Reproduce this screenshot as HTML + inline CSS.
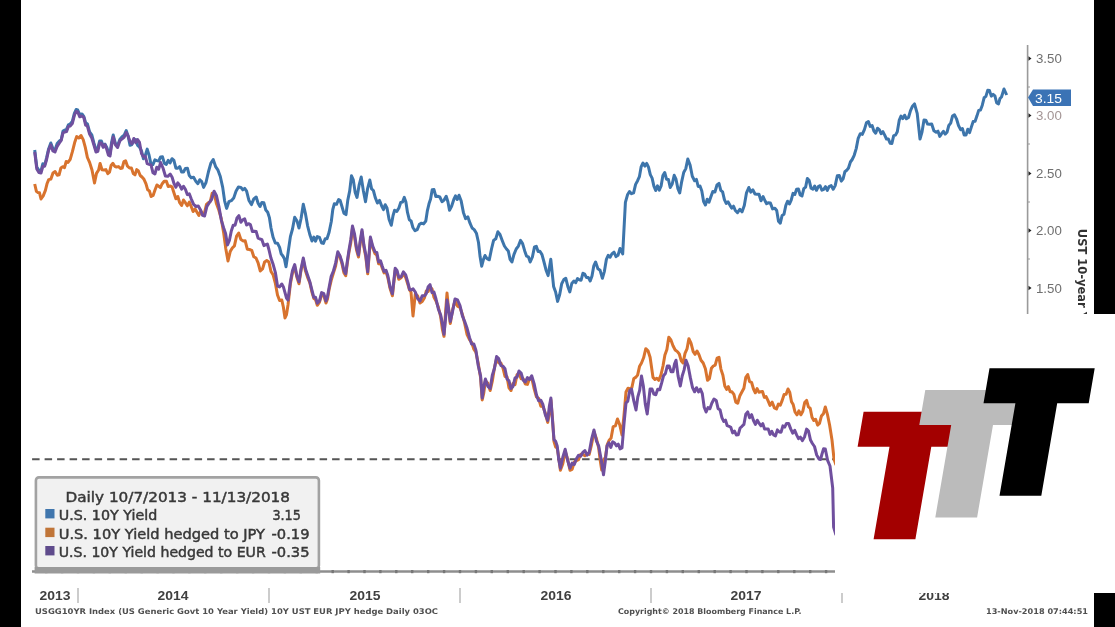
<!DOCTYPE html>
<html><head><meta charset="utf-8"><title>Chart</title>
<style>html,body{margin:0;padding:0;background:#fff;}body{width:1115px;height:627px;overflow:hidden;}svg{display:block;}</style>
</head><body>
<svg width="1115" height="627" viewBox="0 0 1115 627">
<defs><filter id="bl" x="-5%" y="-5%" width="110%" height="110%"><feGaussianBlur stdDeviation="0.55"/></filter></defs>
<rect x="0" y="0" width="1115" height="627" fill="#ffffff"/>
<g filter="url(#bl)">
<line x1="1027.6" y1="45" x2="1027.6" y2="320" stroke="#9a9a9a" stroke-width="1.6"/>
<path d="M1028.5,56.3 L1031.5,58.5 L1028.5,60.7 Z" fill="#222"/>
<text x="1036" y="63.1" font-family="'Liberation Sans', Arial, sans-serif" font-size="13" fill="#6f6f6f" textLength="25.8" lengthAdjust="spacingAndGlyphs">3.50</text>
<path d="M1028.5,113.3 L1031.5,115.5 L1028.5,117.7 Z" fill="#222"/>
<text x="1036" y="120.1" font-family="'Liberation Sans', Arial, sans-serif" font-size="13" fill="#a39494" textLength="25.8" lengthAdjust="spacingAndGlyphs">3.00</text>
<path d="M1028.5,171.3 L1031.5,173.5 L1028.5,175.7 Z" fill="#222"/>
<text x="1036" y="178.1" font-family="'Liberation Sans', Arial, sans-serif" font-size="13" fill="#6f6f6f" textLength="25.8" lengthAdjust="spacingAndGlyphs">2.50</text>
<path d="M1028.5,228.3 L1031.5,230.5 L1028.5,232.7 Z" fill="#222"/>
<text x="1036" y="235.1" font-family="'Liberation Sans', Arial, sans-serif" font-size="13" fill="#6f6f6f" textLength="25.8" lengthAdjust="spacingAndGlyphs">2.00</text>
<path d="M1028.5,285.8 L1031.5,288 L1028.5,290.2 Z" fill="#222"/>
<text x="1036" y="292.6" font-family="'Liberation Sans', Arial, sans-serif" font-size="13" fill="#6f6f6f" textLength="25.8" lengthAdjust="spacingAndGlyphs">1.50</text>
<line x1="1027.6" y1="87" x2="1030" y2="87" stroke="#999" stroke-width="1"/>
<line x1="1027.6" y1="144" x2="1030" y2="144" stroke="#999" stroke-width="1"/>
<line x1="1027.6" y1="202" x2="1030" y2="202" stroke="#999" stroke-width="1"/>
<line x1="1027.6" y1="259" x2="1030" y2="259" stroke="#999" stroke-width="1"/>
<text transform="translate(1077.5,228.8) rotate(90)" font-family="'DejaVu Sans', 'Liberation Sans', sans-serif" font-size="11.5" font-weight="bold" fill="#333">UST 10-year Yield</text>
<line x1="32.1" y1="459.3" x2="836" y2="459.3" stroke="#555" stroke-width="2" stroke-dasharray="7.5,5"/>
<polyline points="34.7,150.0 36.8,167.0 38.9,170.3 41.0,171.0 42.8,163.8 44.7,165.0 46.5,158.0 48.6,148.9 50.8,143.0 52.9,148.6 55.0,150.0 57.2,143.5 59.4,141.0 61.2,139.8 63.0,131.0 64.8,130.0 66.6,129.2 68.4,124.9 70.2,124.0 72.3,121.3 74.5,113.0 76.1,109.5 77.7,110.0 79.8,114.7 82.0,114.0 83.8,116.3 85.6,122.7 87.4,124.0 89.6,132.0 91.8,134.9 93.9,143.0 96.0,150.0 97.8,148.5 99.6,141.0 101.4,141.0 103.2,146.1 105.0,144.2 106.8,147.5 108.4,151.9 110.0,154.0 111.6,142.3 113.2,135.0 115.4,143.3 117.6,145.5 119.8,139.4 121.9,137.0 124.1,135.3 126.2,130.5 128.1,136.0 130.0,145.3 131.9,144.5 133.8,140.0 135.7,139.6 137.6,145.4 139.6,147.2 141.5,150.9 143.4,158.7 145.3,155.4 147.2,149.1 149.1,155.2 151.0,164.4 152.9,164.6 154.9,159.9 156.8,160.6 158.7,161.0 160.6,157.0 162.5,156.8 164.4,163.4 166.3,164.4 168.2,160.3 170.1,163.0 172.0,158.7 173.9,160.4 175.9,168.2 177.8,168.2 179.7,166.6 181.6,172.0 183.5,172.0 185.4,168.4 187.4,168.2 189.3,175.6 191.2,177.8 193.6,177.2 196.0,181.6 197.9,183.7 199.8,179.7 201.7,181.6 203.6,187.4 206.0,182.5 208.4,172.0 210.8,163.3 213.2,159.6 215.6,166.6 218.0,170.2 220.3,176.5 222.7,187.4 224.6,200.8 226.6,208.4 228.9,201.7 231.3,200.7 233.7,198.1 236.0,191.2 238.4,187.0 240.9,187.4 242.8,189.8 244.7,188.4 246.6,191.2 249.0,200.6 251.4,204.6 253.8,198.9 256.2,197.0 258.1,203.2 260.0,206.5 261.9,202.4 263.8,202.7 265.8,210.0 267.7,212.2 269.4,217.6 271.0,228.0 273.1,237.3 275.3,243.0 277.5,243.2 279.6,247.4 281.2,253.8 282.9,256.0 284.4,258.7 286.0,266.7 288.2,251.7 290.4,236.6 292.5,229.0 294.7,217.2 296.9,220.7 299.0,228.0 301.1,218.2 303.3,204.3 305.5,213.9 307.6,225.8 309.8,234.5 312.0,241.0 313.8,237.0 315.5,241.2 317.3,236.6 319.5,237.5 321.6,243.0 323.4,243.4 325.2,238.7 327.0,238.7 329.1,232.2 331.3,221.5 332.8,209.5 334.3,203.8 336.5,204.3 338.6,199.5 340.2,200.6 341.8,206.0 343.9,213.2 346.0,214.6 347.8,200.1 349.7,190.9 351.5,175.8 353.3,179.9 355.2,192.5 357.0,197.4 359.1,185.2 361.2,177.0 363.4,191.0 365.5,201.7 367.6,188.6 369.8,180.0 371.6,188.9 373.4,190.5 375.2,197.4 377.4,203.0 379.5,200.4 381.7,206.0 383.5,209.6 385.2,204.7 387.0,208.0 389.1,219.4 391.3,225.3 393.0,215.7 394.6,210.3 396.8,211.4 398.9,208.0 400.7,202.5 402.5,202.1 404.3,197.4 405.9,202.0 407.5,212.4 409.3,219.7 411.1,221.0 412.9,227.5 415.0,230.7 417.2,229.6 419.4,224.3 421.5,223.2 423.6,223.9 425.8,221.0 427.4,210.6 429.0,203.8 430.6,199.0 432.2,189.8 434.0,189.6 435.8,196.5 437.6,196.3 439.8,197.0 442.0,201.7 444.1,200.1 446.2,196.3 447.9,201.8 449.5,210.3 451.6,206.3 453.8,199.5 455.5,195.8 457.3,199.5 459.0,195.2 461.2,201.1 463.4,212.4 465.6,218.7 467.8,216.8 470.0,223.2 472.1,228.0 474.2,229.6 476.4,233.2 478.5,242.5 480.1,256.8 481.7,266.2 483.4,259.6 485.0,255.5 487.1,258.7 489.3,259.8 491.5,249.0 493.6,240.4 495.8,238.7 497.9,231.8 500.0,234.5 502.2,240.4 504.4,246.0 506.5,249.0 508.3,251.0 510.1,259.4 511.9,262.0 514.0,254.3 516.2,249.0 518.4,246.1 520.5,240.4 522.6,243.6 524.8,251.2 526.6,256.2 528.4,256.8 530.2,262.0 532.4,257.0 534.5,246.9 536.3,246.3 538.1,251.5 539.9,251.2 542.0,254.6 544.0,262.0 546.0,269.9 548.1,275.6 550.8,259.3 553.6,286.4 555.6,292.0 557.6,301.4 559.7,294.5 561.7,283.7 563.8,279.6 565.8,278.3 567.8,286.4 569.8,291.9 571.8,283.5 573.9,281.0 575.7,282.7 577.5,278.6 579.3,279.7 581.1,280.2 582.9,273.3 584.7,274.2 586.5,277.6 588.4,277.6 590.2,281.0 592.0,276.0 593.8,265.8 595.6,262.0 597.9,268.8 600.1,270.3 602.4,278.3 604.4,271.3 606.4,259.3 608.2,255.3 610.1,257.2 611.9,253.9 614.0,252.2 616.0,256.6 618.0,255.3 620.0,248.5 622.7,253.9 625.4,202.4 627.5,194.8 629.5,191.5 631.5,193.7 633.6,192.9 635.6,184.4 637.6,180.7 639.4,176.7 641.2,166.6 643.0,163.0 644.8,166.1 646.7,163.4 648.5,167.1 650.3,174.6 652.1,178.1 653.9,186.1 655.7,190.5 657.5,185.9 659.3,190.2 661.1,186.0 662.9,175.5 664.7,172.5 666.5,179.2 668.4,179.5 670.2,187.5 672.2,184.0 674.2,175.3 676.0,179.2 677.9,188.6 679.7,192.9 681.7,181.6 683.7,172.5 685.8,168.6 687.8,159.0 690.1,165.1 692.3,176.2 694.6,180.7 696.4,179.4 698.2,186.5 700.0,186.1 701.8,191.0 703.6,201.6 705.4,205.0 707.2,199.2 709.0,202.2 710.8,197.0 712.8,191.5 714.9,192.0 717.0,185.0 719.0,183.4 720.8,190.3 722.6,191.8 724.4,199.7 726.2,203.4 728.0,201.8 729.8,205.0 731.6,208.1 733.5,206.2 735.3,210.5 737.5,212.6 739.8,209.3 742.0,211.9 744.3,205.5 746.5,192.8 748.8,187.5 750.8,192.1 752.9,189.8 755.0,194.0 757.0,194.2 759.0,194.2 761.0,200.7 763.1,196.6 765.1,201.0 766.6,203.7 768.1,202.8 770.4,203.1 772.6,208.9 774.9,208.3 776.7,210.5 778.5,221.2 780.3,223.2 782.1,215.5 784.0,214.3 785.8,205.5 787.6,201.2 789.4,204.0 791.2,200.1 793.0,193.4 794.8,194.4 796.6,189.3 798.4,189.0 800.2,195.0 802.0,196.0 803.8,188.7 805.6,187.2 807.4,178.4 809.2,180.5 811.1,188.3 812.9,189.3 814.7,186.1 816.5,190.3 818.3,186.6 820.1,185.7 821.9,190.2 823.7,189.3 825.5,186.7 827.3,190.4 829.1,186.6 831.2,185.6 833.2,189.3 835.2,185.6 837.3,175.7 839.3,175.5 841.3,181.1 843.1,178.8 844.9,171.7 846.7,170.3 848.5,168.0 850.4,162.0 852.2,159.5 854.2,155.3 856.2,148.6 858.2,138.3 860.3,133.7 862.3,134.4 864.4,129.6 866.4,122.8 868.4,121.5 870.2,126.4 872.1,125.5 873.9,131.0 875.7,133.2 877.5,128.2 879.3,129.6 881.1,133.7 882.9,131.7 884.7,135.1 886.5,139.0 888.3,138.9 890.1,143.2 891.9,143.4 893.7,135.6 895.5,135.1 897.3,131.8 899.2,120.4 901.0,116.1 902.8,118.6 904.6,115.2 906.4,118.8 908.5,117.5 910.5,110.7 912.5,106.2 914.5,103.9 917.2,113.4 920.0,139.1 922.0,132.1 924.0,120.1 925.8,120.2 927.6,124.1 929.4,124.2 931.7,124.0 933.9,130.7 936.2,132.3 938.0,131.2 939.8,136.4 941.6,133.7 943.4,131.3 945.2,134.1 947.0,132.3 948.8,125.5 950.7,123.1 952.5,116.1 954.5,114.8 956.5,118.8 958.5,125.5 960.6,129.6 962.4,128.5 964.2,135.1 966.0,135.1 967.8,129.3 969.6,132.6 971.4,126.9 973.2,121.6 975.1,121.3 976.9,116.1 978.7,110.4 980.5,110.1 982.3,105.2 984.1,97.8 985.9,96.4 987.7,90.3 989.5,90.6 991.3,96.1 993.1,94.4 994.9,95.9 996.7,103.0 998.5,103.9 1000.0,98.5 1001.5,97.0 1004.0,89.0 1006.7,95.0" fill="none" stroke="#3d75ab" stroke-width="3" stroke-linejoin="round"/>
<polyline points="34.7,184.0 36.4,191.4 38.0,192.6 39.5,192.8 41.0,199.0 43.2,195.9 45.4,190.4 47.0,183.8 48.7,179.6 50.9,179.1 53.0,173.0 55.1,171.6 57.3,175.3 59.1,174.9 60.9,167.9 62.7,166.7 64.5,167.6 66.2,161.5 68.0,162.4 70.2,159.3 72.4,151.7 74.6,142.8 76.7,136.6 78.8,138.0 81.0,135.5 83.2,139.6 85.3,147.4 87.4,157.5 89.6,162.4 92.0,170.0 94.5,183.0 96.5,173.4 98.6,170.0 100.1,163.4 102.0,169.7 104.0,170.0 105.9,169.6 107.8,173.6 109.5,172.2 111.2,165.2 112.9,163.4 114.7,166.3 116.5,167.0 118.5,166.6 120.5,168.5 122.2,168.0 123.9,161.6 125.6,160.8 127.5,166.2 129.5,168.0 131.4,167.9 133.3,173.6 135.0,174.9 136.7,169.6 138.4,171.0 140.2,175.5 142.0,177.0 144.0,179.3 146.0,183.8 147.7,189.8 149.4,190.9 151.1,196.5 153.1,195.4 155.0,190.0 156.9,185.0 158.8,186.3 160.4,187.6 162.0,184.0 164.2,181.2 166.4,181.2 168.2,186.5 170.0,186.0 172.0,186.8 174.0,193.0 175.9,198.8 177.8,196.5 179.7,202.7 181.6,205.4 183.5,200.0 185.4,202.7 187.3,205.8 189.3,202.1 191.2,206.5 193.1,211.5 195.1,208.9 197.0,212.2 198.9,215.5 200.8,210.9 202.7,214.1 204.6,212.3 206.5,204.3 208.4,202.7 210.3,201.5 212.2,193.2 214.1,193.0 216.5,203.8 218.9,210.3 221.3,218.9 223.7,233.0 225.8,248.8 228.0,261.0 230.2,251.6 232.3,248.0 234.4,245.9 236.6,236.0 238.7,233.0 240.8,239.2 243.0,240.9 245.2,240.8 247.3,249.2 249.5,249.5 251.7,250.3 253.8,256.7 256.0,258.0 258.1,262.8 260.3,271.0 262.5,269.0 264.6,262.0 266.8,260.6 268.9,262.0 271.0,271.5 273.2,275.0 275.4,283.4 277.5,295.0 279.6,300.5 281.8,300.0 283.4,307.3 285.0,318.0 286.5,314.6 288.0,305.0 290.4,283.8 292.5,272.7 294.7,266.6 296.9,277.3 299.0,283.8 301.1,269.8 303.3,260.0 305.5,271.1 307.6,277.3 309.8,282.6 312.0,292.4 313.8,298.4 315.5,299.5 317.3,305.3 319.5,302.1 321.6,294.6 323.8,295.8 326.0,303.0 327.5,298.9 329.0,290.0 331.2,280.3 333.4,273.0 335.6,266.1 337.8,253.7 339.9,256.3 342.0,264.0 343.9,272.8 345.7,275.7 347.4,262.4 349.0,252.0 350.8,242.6 352.5,228.0 354.5,236.5 356.5,249.8 358.5,257.0 360.2,242.7 362.0,231.7 363.9,247.3 365.8,256.9 367.7,273.8 370.4,239.0 372.7,247.6 375.0,253.7 376.8,255.2 378.6,263.8 380.5,263.1 382.3,268.3 384.1,272.9 386.0,271.5 387.8,277.5 390.1,288.6 392.4,295.8 395.2,270.2 397.0,272.2 398.8,279.3 401.1,277.7 403.4,273.8 405.7,277.5 408.0,284.8 409.5,289.8 411.0,292.0 413.0,316.0 415.3,294.0 417.6,296.0 420.0,303.0 422.2,301.6 424.5,297.7 426.3,291.0 428.2,291.5 430.0,286.7 432.0,288.9 434.0,297.3 436.0,301.0 438.4,307.4 440.7,317.0 442.4,329.4 444.0,336.3 445.5,313.3 447.0,293.0 448.6,309.7 450.3,323.5 452.6,309.7 455.0,301.0 457.5,306.1 460.0,307.5 462.4,314.4 464.7,323.5 467.1,334.6 469.5,339.5 471.6,342.4 473.8,349.1 475.9,352.2 478.2,363.2 480.6,377.8 482.2,400.0 483.8,392.8 485.4,381.0 487.8,383.1 490.2,390.5 492.3,381.2 494.5,367.5 496.6,358.6 498.7,362.9 500.9,363.0 503.0,368.2 505.0,376.4 507.0,376.7 509.0,387.9 511.0,390.5 513.0,383.5 515.0,384.6 517.0,374.8 519.0,373.0 521.1,378.7 523.2,378.8 525.3,384.0 527.4,384.4 529.6,378.2 531.7,377.8 534.1,388.7 536.5,397.0 538.6,398.2 540.8,406.2 542.9,406.5 545.3,413.1 547.7,422.4 549.3,413.5 550.9,400.0 552.5,418.9 554.0,441.6 555.6,446.9 557.2,448.0 558.8,457.8 560.4,470.3 562.8,463.8 565.2,451.2 567.6,459.2 570.0,470.3 572.1,469.4 574.3,462.0 576.4,460.7 578.5,459.7 580.7,454.3 582.8,454.4 584.9,455.7 587.1,453.2 589.2,454.4 591.6,444.3 594.0,432.0 596.4,438.6 598.7,448.0 600.2,460.3 601.7,470.0 603.5,460.2 605.4,457.4 607.2,444.8 609.0,440.5 611.1,438.1 613.2,426.6 615.4,425.9 617.5,419.0 619.8,425.0 622.0,435.0 624.0,415.1 626.0,392.0 628.0,388.2 630.0,389.0 631.9,387.5 633.8,378.5 635.7,377.4 637.6,375.1 639.6,366.2 641.5,363.0 643.6,357.8 645.8,348.7 648.0,350.8 650.1,357.3 653.0,377.4 654.9,379.4 656.8,378.2 658.7,380.3 660.9,375.1 663.0,366.0 664.9,355.1 666.9,349.4 668.8,337.2 670.9,339.9 673.0,345.8 675.2,350.0 677.4,351.6 679.3,354.0 681.2,360.7 683.1,363.0 685.0,353.4 687.0,348.9 688.9,338.7 691.0,343.1 693.2,351.6 695.1,354.3 697.0,351.1 698.9,354.5 701.0,360.2 703.2,363.0 705.4,368.7 707.5,380.3 709.4,378.6 711.4,368.2 713.3,366.0 715.2,365.1 717.1,358.1 719.0,357.3 720.9,369.1 722.9,375.3 724.8,386.0 726.6,389.4 728.4,386.7 730.2,391.8 732.0,391.8 733.9,394.4 735.8,402.2 737.7,403.3 739.9,395.7 742.0,391.8 743.9,388.2 745.8,377.3 747.7,374.6 749.6,381.7 751.6,382.5 753.5,389.0 755.3,392.8 757.1,388.6 758.9,392.2 760.7,391.8 762.5,391.5 764.3,397.4 766.1,396.6 767.9,400.4 770.0,405.4 772.2,402.2 774.4,407.9 776.5,409.0 778.4,404.1 780.3,405.2 782.2,400.4 784.1,394.5 786.1,394.3 788.0,389.0 789.8,392.5 791.5,401.7 793.2,404.6 795.0,412.0 797.0,414.8 798.9,410.9 800.9,414.8 802.8,411.2 804.7,402.6 806.6,400.4 808.4,406.9 810.2,408.2 812.0,417.3 813.8,420.5 815.7,419.4 817.6,425.1 819.5,423.4 821.4,416.1 823.4,413.8 825.3,407.0 827.5,414.7 829.6,425.0 832.0,440.0 834.0,459.0 836.0,465.0" fill="none" stroke="#d8732d" stroke-width="3" stroke-linejoin="round"/>
<polyline points="34.7,152.0 36.8,169.0 38.9,172.5 41.0,173.0 42.8,166.5 44.7,166.2 46.5,160.0 48.6,150.2 50.8,145.0 52.9,150.9 55.0,152.0 57.2,146.3 59.4,143.0 61.2,140.4 63.0,132.9 64.8,132.0 66.6,131.6 68.4,126.5 70.2,126.0 72.3,123.6 74.5,115.0 76.1,111.5 77.7,112.0 79.8,116.8 82.0,116.0 83.8,117.3 85.6,125.1 87.4,126.0 89.6,134.0 91.8,138.1 93.9,145.0 96.0,152.0 97.8,151.4 99.6,143.1 101.4,143.0 103.2,147.3 105.0,144.7 106.8,149.5 108.4,155.2 110.0,156.0 111.6,145.3 113.2,137.0 115.4,144.9 117.6,147.5 119.8,141.0 121.9,139.0 124.1,137.4 126.2,132.5 128.1,135.9 130.0,141.5 131.9,143.9 133.8,138.5 135.7,142.6 137.6,139.6 139.5,142.4 141.5,153.6 143.4,156.8 145.3,156.3 147.2,163.7 149.1,164.4 151.0,164.9 153.0,172.8 154.9,174.0 156.8,167.2 158.7,169.2 160.6,162.5 163.0,168.0 165.4,176.0 167.8,176.3 170.2,174.0 172.1,177.2 174.0,183.5 175.9,187.2 177.8,182.8 179.7,185.4 181.6,189.1 183.5,186.3 185.4,189.3 187.3,194.6 189.3,193.8 191.2,198.8 193.6,204.4 196.0,206.5 198.3,206.1 200.7,210.3 202.6,215.4 204.6,216.0 206.9,206.4 209.3,202.7 211.7,199.4 214.1,191.2 216.5,195.8 218.9,206.5 221.3,220.1 223.7,228.0 225.6,233.4 227.5,245.0 229.4,240.5 231.3,231.0 233.2,225.3 235.1,225.2 237.0,218.0 238.9,215.6 240.9,222.2 242.8,219.9 244.7,218.9 246.6,225.0 248.5,223.7 250.4,224.7 252.4,231.6 254.3,231.3 256.2,231.6 258.1,238.1 260.0,239.0 261.9,239.7 263.9,245.6 265.8,244.7 267.4,244.0 268.9,249.5 271.0,258.3 273.2,264.6 275.4,272.6 277.5,286.0 279.6,286.9 281.8,284.0 283.4,286.9 285.0,292.6 286.5,298.0 288.0,300.0 290.4,281.8 292.5,270.5 294.7,264.6 296.9,276.1 299.0,281.8 301.1,268.8 303.3,258.0 305.5,269.0 307.6,275.3 309.8,281.7 312.0,290.4 313.8,297.3 315.5,297.3 317.3,303.3 319.5,300.8 321.6,292.6 323.8,293.7 326.0,301.0 327.5,296.6 329.0,288.0 331.2,276.4 333.4,271.0 335.6,263.1 337.8,251.7 339.9,255.6 342.0,262.0 343.9,270.2 345.7,273.7 347.4,260.7 349.0,250.0 350.8,239.5 352.5,226.0 354.5,233.8 356.5,247.7 358.5,255.0 360.2,241.0 362.0,229.7 363.9,244.9 365.8,254.9 367.7,271.8 370.4,237.0 372.7,246.1 375.0,251.7 376.8,252.3 378.6,261.9 380.5,260.8 382.3,266.3 384.1,271.4 386.0,270.3 387.8,275.5 390.1,287.1 392.4,293.8 395.2,268.2 397.0,270.4 398.8,277.3 401.1,276.8 403.4,271.8 405.7,274.9 408.0,282.8 409.5,289.4 411.0,290.0 413.1,288.9 415.3,292.0 417.6,298.5 420.0,301.0 422.2,295.8 424.5,295.7 426.3,293.6 428.2,286.7 430.0,284.7 432.0,292.6 434.0,292.1 436.0,299.0 438.4,309.2 440.7,315.0 442.4,323.6 444.0,334.3 445.5,319.1 447.0,300.0 448.6,308.5 450.3,321.5 452.6,311.3 455.0,299.0 457.5,299.9 460.0,305.5 462.4,315.9 464.7,321.5 467.1,328.3 469.5,337.5 471.6,344.1 473.8,343.9 475.9,350.2 478.2,365.5 480.6,375.8 482.2,398.0 483.8,386.7 485.4,379.0 487.8,386.3 490.2,388.5 492.3,375.3 494.5,368.3 496.6,356.6 498.7,358.6 500.9,365.5 503.0,366.2 505.0,368.7 507.0,378.9 509.0,380.9 511.0,388.5 513.0,386.4 515.0,378.0 517.0,377.2 519.0,371.0 521.1,373.0 523.2,380.2 525.3,382.0 527.4,377.6 529.6,379.5 531.7,375.8 534.1,383.6 536.5,395.0 538.6,400.8 540.8,400.2 542.9,404.5 545.3,414.7 547.7,420.4 549.3,406.6 550.9,398.0 552.5,420.5 554.0,439.6 555.6,441.3 557.2,446.0 558.8,459.9 560.4,468.3 562.8,457.2 565.2,449.2 567.6,460.2 570.0,468.3 572.1,463.1 574.3,464.4 576.4,458.7 578.5,455.3 580.7,456.2 582.8,452.4 584.9,450.6 587.1,455.2 589.2,452.4 591.6,439.2 594.0,430.0 596.4,440.8 598.7,446.0 601.1,458.9 603.5,474.7 605.2,462.1 607.0,446.0 608.9,442.8 610.8,447.4 612.7,441.8 614.6,443.0 616.5,445.8 618.3,444.2 620.1,448.9 622.0,448.0 624.0,424.0 626.0,403.0 627.8,401.1 629.7,390.9 631.5,389.0 633.8,400.9 636.0,410.0 637.8,397.0 639.7,390.1 641.5,376.0 643.4,386.3 645.3,404.1 647.2,414.0 650.1,389.0 652.0,389.1 653.9,394.1 655.8,394.7 657.7,389.2 659.7,389.8 661.6,383.2 663.5,375.8 665.4,373.5 667.3,366.0 669.2,366.0 671.1,371.7 673.0,371.7 674.5,364.0 676.0,360.2 678.1,376.1 680.3,386.0 682.2,376.0 684.1,369.9 686.0,360.2 688.1,365.8 690.3,377.4 692.5,387.5 694.6,391.8 696.5,387.7 698.5,391.9 700.4,389.0 702.3,393.6 704.2,407.3 706.1,412.0 708.0,407.6 709.9,408.8 711.8,403.3 714.0,399.0 716.2,400.4 718.1,408.6 720.0,409.7 721.9,417.6 723.7,421.4 725.5,420.2 727.2,425.7 729.0,426.3 730.8,427.3 732.6,432.9 734.5,431.1 736.3,434.9 738.2,434.8 740.1,428.0 742.0,426.3 743.9,424.4 745.8,414.2 747.7,411.9 749.6,417.8 751.6,414.7 753.5,420.5 755.4,424.4 757.3,420.2 759.2,423.4 761.0,425.9 762.8,423.6 764.6,429.1 766.4,429.1 768.2,428.9 770.0,434.4 771.8,431.3 773.6,434.9 775.5,435.9 777.4,429.9 779.3,432.0 781.1,432.2 782.9,425.9 784.7,427.1 786.5,423.4 788.6,423.4 790.8,429.1 792.7,433.1 794.7,430.3 796.6,434.9 798.5,438.6 800.4,437.2 802.3,440.6 804.5,437.0 806.6,429.1 808.5,431.1 810.5,440.1 812.4,443.5 814.5,446.5 816.7,455.0 819.0,459.0 820.5,459.5 822.0,454.0 823.6,448.8 825.3,449.0 827.6,460.3 830.0,466.0 832.7,488.0 833.6,527.0 836.0,535.0" fill="none" stroke="#6f509e" stroke-width="3" stroke-linejoin="round"/>
<path d="M1028,97.5 L1033,89.5 L1071,89.5 L1071,106 L1033,106 Z" fill="#3a73b5"/>
<text x="1035" y="102.8" font-family="'Liberation Sans', Arial, sans-serif" font-size="13" fill="#ffffff" textLength="27" lengthAdjust="spacingAndGlyphs">3.15</text>
<line x1="32" y1="571.5" x2="836" y2="571.5" stroke="#8e8e8e" stroke-width="2.4"/>
<rect x="45.0" y="570" width="2.4" height="3.2" fill="#777"/>
<rect x="60.9" y="570" width="2.4" height="3.2" fill="#777"/>
<rect x="76.8" y="570" width="2.4" height="3.2" fill="#777"/>
<rect x="92.7" y="570" width="2.4" height="3.2" fill="#777"/>
<rect x="108.6" y="570" width="2.4" height="3.2" fill="#777"/>
<rect x="124.5" y="570" width="2.4" height="3.2" fill="#777"/>
<rect x="140.5" y="570" width="2.4" height="3.2" fill="#777"/>
<rect x="156.4" y="570" width="2.4" height="3.2" fill="#777"/>
<rect x="172.3" y="570" width="2.4" height="3.2" fill="#777"/>
<rect x="188.2" y="570" width="2.4" height="3.2" fill="#777"/>
<rect x="204.1" y="570" width="2.4" height="3.2" fill="#777"/>
<rect x="220.0" y="570" width="2.4" height="3.2" fill="#777"/>
<rect x="236.0" y="570" width="2.4" height="3.2" fill="#777"/>
<rect x="251.9" y="570" width="2.4" height="3.2" fill="#777"/>
<rect x="267.8" y="570" width="2.4" height="3.2" fill="#777"/>
<rect x="283.7" y="570" width="2.4" height="3.2" fill="#777"/>
<rect x="299.6" y="570" width="2.4" height="3.2" fill="#777"/>
<rect x="315.5" y="570" width="2.4" height="3.2" fill="#777"/>
<rect x="331.5" y="570" width="2.4" height="3.2" fill="#777"/>
<rect x="347.4" y="570" width="2.4" height="3.2" fill="#777"/>
<rect x="363.3" y="570" width="2.4" height="3.2" fill="#777"/>
<rect x="379.2" y="570" width="2.4" height="3.2" fill="#777"/>
<rect x="395.1" y="570" width="2.4" height="3.2" fill="#777"/>
<rect x="411.0" y="570" width="2.4" height="3.2" fill="#777"/>
<rect x="427.0" y="570" width="2.4" height="3.2" fill="#777"/>
<rect x="442.9" y="570" width="2.4" height="3.2" fill="#777"/>
<rect x="458.8" y="570" width="2.4" height="3.2" fill="#777"/>
<rect x="474.7" y="570" width="2.4" height="3.2" fill="#777"/>
<rect x="490.6" y="570" width="2.4" height="3.2" fill="#777"/>
<rect x="506.6" y="570" width="2.4" height="3.2" fill="#777"/>
<rect x="522.5" y="570" width="2.4" height="3.2" fill="#777"/>
<rect x="538.4" y="570" width="2.4" height="3.2" fill="#777"/>
<rect x="554.3" y="570" width="2.4" height="3.2" fill="#777"/>
<rect x="570.2" y="570" width="2.4" height="3.2" fill="#777"/>
<rect x="586.1" y="570" width="2.4" height="3.2" fill="#777"/>
<rect x="602.1" y="570" width="2.4" height="3.2" fill="#777"/>
<rect x="618.0" y="570" width="2.4" height="3.2" fill="#777"/>
<rect x="633.9" y="570" width="2.4" height="3.2" fill="#777"/>
<rect x="649.8" y="570" width="2.4" height="3.2" fill="#777"/>
<rect x="665.7" y="570" width="2.4" height="3.2" fill="#777"/>
<rect x="681.6" y="570" width="2.4" height="3.2" fill="#777"/>
<rect x="697.6" y="570" width="2.4" height="3.2" fill="#777"/>
<rect x="713.5" y="570" width="2.4" height="3.2" fill="#777"/>
<rect x="729.4" y="570" width="2.4" height="3.2" fill="#777"/>
<rect x="745.3" y="570" width="2.4" height="3.2" fill="#777"/>
<rect x="761.2" y="570" width="2.4" height="3.2" fill="#777"/>
<rect x="777.1" y="570" width="2.4" height="3.2" fill="#777"/>
<rect x="793.1" y="570" width="2.4" height="3.2" fill="#777"/>
<rect x="809.0" y="570" width="2.4" height="3.2" fill="#777"/>
<rect x="824.9" y="570" width="2.4" height="3.2" fill="#777"/>
<line x1="78" y1="588" x2="78" y2="603" stroke="#bbb" stroke-width="1.5"/>
<line x1="269" y1="588" x2="269" y2="603" stroke="#bbb" stroke-width="1.5"/>
<line x1="460" y1="588" x2="460" y2="603" stroke="#bbb" stroke-width="1.5"/>
<line x1="651" y1="588" x2="651" y2="603" stroke="#bbb" stroke-width="1.5"/>
<line x1="842" y1="588" x2="842" y2="603" stroke="#bbb" stroke-width="1.5"/>
<text x="55" y="600" text-anchor="middle" font-family="'Liberation Sans', Arial, sans-serif" font-size="13.5" font-weight="bold" fill="#404040" textLength="31" lengthAdjust="spacingAndGlyphs">2013</text>
<text x="173" y="600" text-anchor="middle" font-family="'Liberation Sans', Arial, sans-serif" font-size="13.5" font-weight="bold" fill="#404040" textLength="31" lengthAdjust="spacingAndGlyphs">2014</text>
<text x="365" y="600" text-anchor="middle" font-family="'Liberation Sans', Arial, sans-serif" font-size="13.5" font-weight="bold" fill="#404040" textLength="31" lengthAdjust="spacingAndGlyphs">2015</text>
<text x="556" y="600" text-anchor="middle" font-family="'Liberation Sans', Arial, sans-serif" font-size="13.5" font-weight="bold" fill="#404040" textLength="31" lengthAdjust="spacingAndGlyphs">2016</text>
<text x="746" y="600" text-anchor="middle" font-family="'Liberation Sans', Arial, sans-serif" font-size="13.5" font-weight="bold" fill="#404040" textLength="31" lengthAdjust="spacingAndGlyphs">2017</text>
<text x="934" y="600" text-anchor="middle" font-family="'Liberation Sans', Arial, sans-serif" font-size="13.5" font-weight="bold" fill="#404040" textLength="31" lengthAdjust="spacingAndGlyphs">2018</text>
<text x="35" y="614" font-family="'DejaVu Sans', 'Liberation Sans', sans-serif" font-size="7.8" font-weight="bold" fill="#505050" textLength="403" lengthAdjust="spacingAndGlyphs">USGG10YR Index (US Generic Govt 10 Year Yield) 10Y UST EUR JPY hedge  Daily 03OC</text>
<text x="618" y="614" font-family="'DejaVu Sans', 'Liberation Sans', sans-serif" font-size="7.8" font-weight="bold" fill="#505050" textLength="183.5" lengthAdjust="spacingAndGlyphs">Copyright© 2018 Bloomberg Finance L.P.</text>
<text x="986" y="614" font-family="'DejaVu Sans', 'Liberation Sans', sans-serif" font-size="7.8" font-weight="bold" fill="#505050" textLength="102" lengthAdjust="spacingAndGlyphs">13-Nov-2018 07:44:51</text>
<rect x="35.9" y="477.4" width="283" height="91" rx="3" fill="#f1f1f1" stroke="#a2a2a2" stroke-width="2.6"/>
<rect x="34.6" y="567" width="285.6" height="6.5" fill="#9a9a9a"/>
<text x="65.5" y="501.5" font-family="'DejaVu Sans', 'Liberation Sans', sans-serif" font-size="13.8" fill="#383838" stroke="#383838" stroke-width="0.45" textLength="224.5" lengthAdjust="spacingAndGlyphs">Daily 10/7/2013 - 11/13/2018</text>
<rect x="45.3" y="508.99999999999994" width="9.2" height="9.4" fill="#4176ad"/>
<text x="58.7" y="519.8" font-family="'DejaVu Sans', 'Liberation Sans', sans-serif" font-size="13.8" fill="#383838" stroke="#383838" stroke-width="0.45" textLength="98.5" lengthAdjust="spacingAndGlyphs">U.S. 10Y Yield</text>
<text x="272.4" y="519.8" font-family="'DejaVu Sans', 'Liberation Sans', sans-serif" font-size="13.8" fill="#383838" stroke="#383838" stroke-width="0.45" textLength="28.5" lengthAdjust="spacingAndGlyphs">3.15</text>
<rect x="45.3" y="527.7" width="9.2" height="9.4" fill="#c07438"/>
<text x="58.7" y="538.5" font-family="'DejaVu Sans', 'Liberation Sans', sans-serif" font-size="13.8" fill="#383838" stroke="#383838" stroke-width="0.45" textLength="206.3" lengthAdjust="spacingAndGlyphs">U.S. 10Y Yield hedged to JPY</text>
<text x="271.5" y="538.5" font-family="'DejaVu Sans', 'Liberation Sans', sans-serif" font-size="13.8" fill="#383838" stroke="#383838" stroke-width="0.45" textLength="38" lengthAdjust="spacingAndGlyphs">-0.19</text>
<rect x="45.3" y="546.0" width="9.2" height="9.4" fill="#5e4c8c"/>
<text x="58.7" y="556.8" font-family="'DejaVu Sans', 'Liberation Sans', sans-serif" font-size="13.8" fill="#383838" stroke="#383838" stroke-width="0.45" textLength="207" lengthAdjust="spacingAndGlyphs">U.S. 10Y Yield hedged to EUR</text>
<text x="271.5" y="556.8" font-family="'DejaVu Sans', 'Liberation Sans', sans-serif" font-size="13.8" fill="#383838" stroke="#383838" stroke-width="0.45" textLength="38" lengthAdjust="spacingAndGlyphs">-0.35</text>
</g>
<rect x="0" y="0" width="21" height="627" fill="#000"/>
<rect x="1094" y="0" width="21" height="627" fill="#000"/>
<rect x="835" y="314" width="280" height="279" fill="#ffffff"/>
<path d="M863.6,411.8 L968.8,411.8 L962.8,446.8 L931.3,446.8 L915.4,539.3 L873.6,539.3 L889.5,446.8 L857.6,446.8 Z" fill="#a30000"/>
<path d="M925.3,389.9 L1030.5,389.9 L1024.5,424.9 L993.0,424.9 L977.1,517.4 L935.3,517.4 L951.2,424.9 L919.3,424.9 Z" fill="#bbbbbb"/>
<path d="M989.5,368.2 L1094.7,368.2 L1088.7,403.2 L1057.2,403.2 L1041.3,495.7 L999.5,495.7 L1015.4,403.2 L983.5,403.2 Z" fill="#000000"/>
</svg>
</body></html>
